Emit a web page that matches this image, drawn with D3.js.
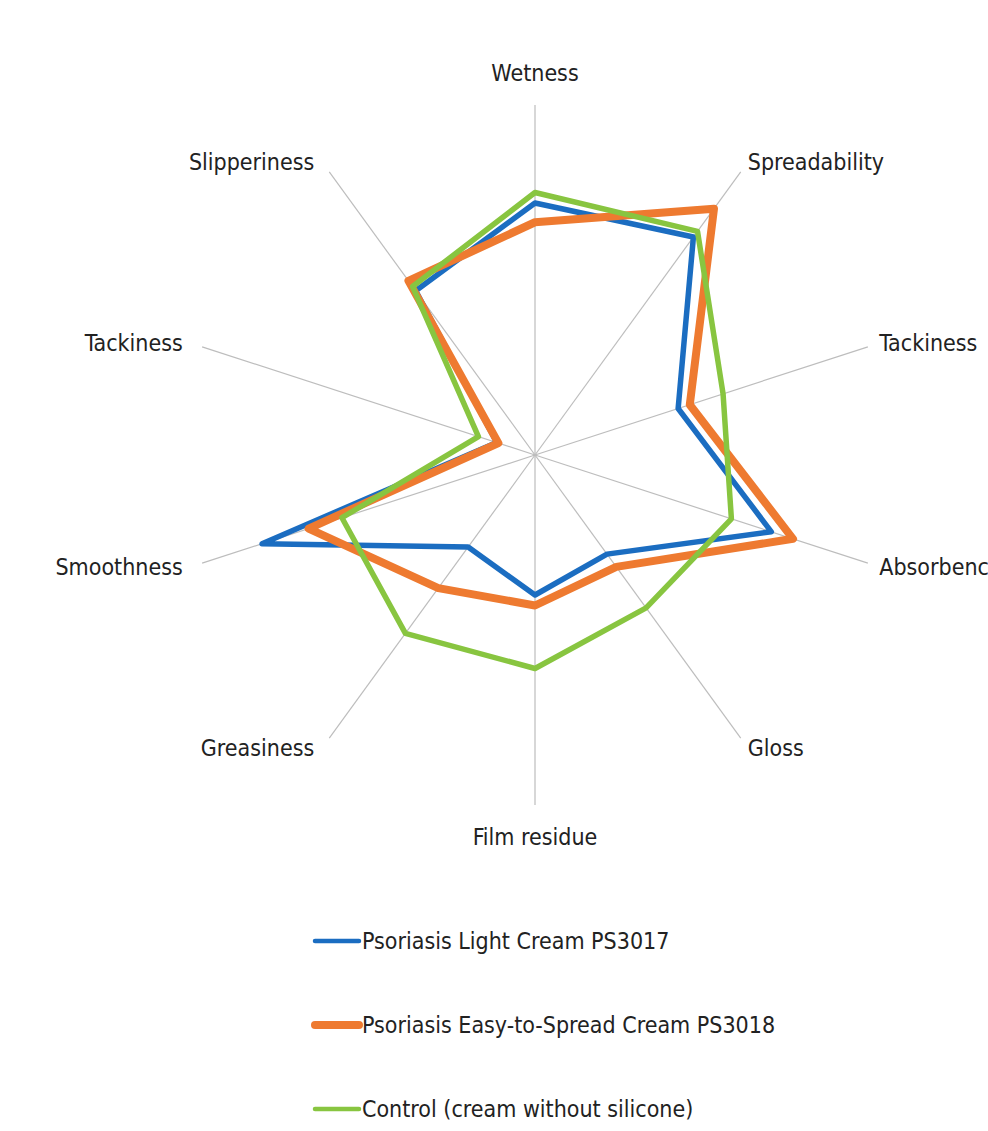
<!DOCTYPE html>
<html lang="en">
<head>
    <meta charset="UTF-8">
    <title>Sensory profile radar</title>
    <script src="https://d3js.org/d3.v7.min.js"></script>
    <style>
        body { margin: 0; background: #fff; }
        text { font-family: "DejaVu Sans Condensed", "DejaVu Sans", sans-serif; font-stretch: condensed; fill: #222; }
    </style>
</head>
<body>
    <script>
        // categories, clockwise from the top
        const categories = ["Wetness", "Spreadability", "Tackiness", "Absorbency", "Gloss",
            "Film residue", "Greasiness", "Smoothness", "Tackiness", "Slipperiness"];

        // series values (scale 0-10)
        const lightCream = [7.2, 7.7, 4.3, 7.1, 3.5, 4.0, 3.25, 8.2, 1.15, 5.8];
        const easyCream = [6.65, 8.7, 4.65, 7.75, 3.95, 4.3, 4.7, 6.8, 1.1, 6.15];
        const control = [7.5, 7.9, 5.65, 5.9, 5.4, 6.1, 6.3, 5.8, 1.7, 5.95];

        const seriesNames = ["Psoriasis Light Cream PS3017", "Psoriasis Easy-to-Spread Cream PS3018",
            "Control (cream without silicone)"];

        const width = 988, height = 1131;
        const cx = 535, cy = 455, R = 350;

        const svg = d3.select("body").append("svg")
            .attr("width", width)
            .attr("height", height);

        const r = d3.scaleLinear().domain([0, 10]).range([0, R]);
        const angle = d3.scaleLinear().domain([0, categories.length]).range([0, 2 * Math.PI]);

        const g = svg.append("g").attr("transform", `translate(${cx},${cy})`);

        // spokes
        g.selectAll("line.spoke")
            .data(categories)
            .enter()
            .append("line")
            .attr("class", "spoke")
            .attr("x1", 0).attr("y1", 0)
            .attr("x2", (d, i) => r(10) * Math.sin(angle(i)))
            .attr("y2", (d, i) => -r(10) * Math.cos(angle(i)))
            .attr("stroke", "#bdbdbd")
            .attr("stroke-width", 1.2);

        // axis labels
        g.selectAll("text.cat")
            .data(categories)
            .enter()
            .append("text")
            .attr("class", "cat")
            .attr("font-size", "23px")
            .attr("dominant-baseline", "central")
            .attr("text-anchor", (d, i) => {
                const s = Math.sin(angle(i));
                return s > 0.1 ? "start" : s < -0.1 ? "end" : "middle";
            })
            .attr("x", (d, i) => {
                const s = Math.sin(angle(i));
                return (r(10) + 12) * s + (s < -0.1 ? -8 : 0);
            })
            .attr("y", (d, i) => {
                const c = Math.cos(angle(i));
                const extra = Math.abs(c) > 0.95 ? 20 : 0;
                return -(r(10) + 12 + extra) * c;
            })
            .text(d => d);

        // series
        const series = [
            { name: seriesNames[0], values: lightCream, color: "#1b6dc1", w: 5.5, lw: 4.5 },
            { name: seriesNames[1], values: easyCream, color: "#ee7a30", w: 8, lw: 8 },
            { name: seriesNames[2], values: control, color: "#88c540", w: 5.5, lw: 4.5 }
        ];

        const radar = d3.lineRadial()
            .angle((d, i) => angle(i))
            .radius(d => r(d))
            .curve(d3.curveLinearClosed);

        g.selectAll("path.series")
            .data(series)
            .enter()
            .append("path")
            .attr("class", "series")
            .attr("d", d => radar(d.values))
            .attr("fill", "none")
            .attr("stroke", d => d.color)
            .attr("stroke-width", d => d.w)
            .attr("stroke-linejoin", "round");

        // legend
        const legend = svg.append("g").attr("transform", "translate(313,941)");
        const item = legend.selectAll("g")
            .data(series)
            .enter()
            .append("g")
            .attr("transform", (d, i) => `translate(0,${i * 84})`);

        item.append("line")
            .attr("x1", 2).attr("x2", 46)
            .attr("y1", 0).attr("y2", 0)
            .attr("stroke", d => d.color)
            .attr("stroke-width", d => d.lw)
            .attr("stroke-linecap", "round");

        item.append("text")
            .attr("x", 49)
            .attr("y", 0)
            .attr("dominant-baseline", "central")
            .attr("font-size", "23px")
            .text(d => d.name);
    </script>
</body>
</html>
